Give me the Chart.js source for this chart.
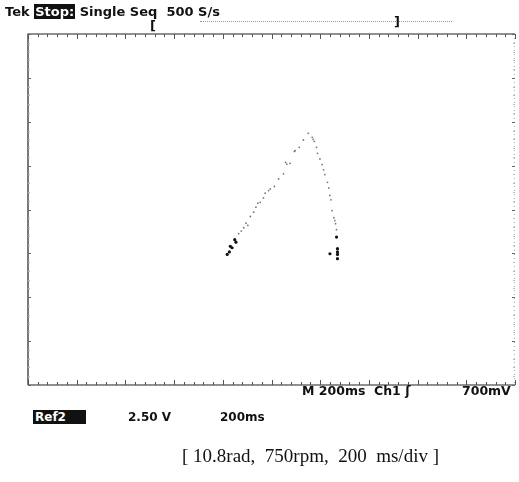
<!DOCTYPE html>
<html>
<head>
<meta charset="utf-8">
<script src="https://cdn.jsdelivr.net/npm/chart.js@4.4.1/dist/chart.umd.min.js"></script>
<style>
  html, body { margin: 0; padding: 0; background: #fff; }
  #wrap { position: relative; width: 519px; height: 482px; overflow: hidden; }
  #scope { position: absolute; left: 0; top: 0; }
  .t { position: absolute; white-space: nowrap; font-family: "DejaVu Sans", sans-serif; color: #111; }
  .hdr { font-size: 13px; font-weight: bold; top: 4px; }
  .inv { background: #111; color: #fff; padding: 0 1px; }
  .bot { font-size: 12.5px; font-weight: bold; top: 383px; }
  .ref { font-size: 12px; font-weight: bold; top: 410px; }
  .cap { font-family: "Liberation Serif", "Times New Roman", serif; font-size: 19px; top: 445px; left: 182px; }
  .brk { font-size: 13px; font-weight: bold; }
  #trig { position: absolute; left: 200px; top: 21px; width: 252px; border-top: 1px dotted #999; }
</style>
</head>
<body>
<div id="wrap">
  <canvas id="scope" width="519" height="482"></canvas>

  <div class="t hdr" style="left:5px;">Tek <span class="inv">Stop:</span> Single Seq&nbsp;&nbsp;500 S/s</div>
  <div class="t brk" style="left:150px; top:18px;">[</div>
  <div id="trig"></div>
  <div class="t brk" style="left:394px; top:14px;">]</div>

  <div class="t bot" style="left:302px;">M 200ms&nbsp;&nbsp;Ch1 ʃ</div>
  <div class="t bot" style="left:462px;">700mV</div>

  <div class="t ref" style="left:33px;"><span class="inv" style="padding:0 20px 0 2px;">Ref2</span></div>
  <div class="t ref" style="left:128px; font-weight:600;">2.50 V</div>
  <div class="t ref" style="left:220px; font-weight:600;">200ms</div>

  <div class="t cap">[ 10.8rad,&nbsp; 750rpm,&nbsp; 200&nbsp; ms/div ]</div>
</div>

<script>
// ── Oscilloscope settings (10 div x 200 ms, 8 div x 2.5 V) ──
const TIME_DIV_MS = 200;
const VOLT_DIV = 2.5;
const H_DIVS = 10;
const V_DIVS = 8;

// trace samples: time (ms) and voltage (V)
const traceTime = [
  818, 827, 831, 838, 849, 854, 865, 876, 886, 895, 903, 913, 927, 936, 944, 954,
  967, 974, 988, 995, 1012, 1029, 1049, 1058, 1063, 1076, 1094, 1097, 1114, 1131, 1151,
  1167, 1171, 1176, 1185, 1189, 1199, 1208, 1214, 1219, 1230, 1235, 1240, 1244, 1249,
  1256, 1260, 1263, 1267, 1267, 1271, 1271, 1240, 1271, 1271
];
const traceVolt = [
  -2.56, -2.42, -2.10, -2.18, -1.72, -1.86, -1.38, -1.23, -1.04, -0.78, -0.91, -0.40, -0.15, 0.13, 0.36, 0.41,
  0.66, 0.93, 1.08, 1.17, 1.31, 1.74, 2.03, 2.69, 2.59, 2.63, 3.31, 3.35, 3.54, 3.96, 4.34,
  4.11, 4.00, 3.88, 3.54, 3.20, 2.88, 2.56, 2.26, 1.99, 1.55, 1.23, 0.80, 0.55, -0.06,
  -0.47, -0.63, -0.81, -1.15, -1.57, -2.23, -2.42, -2.52, -2.56, -2.80
];

const points = traceTime.map((t, i) => ({ x: t, y: traceVolt[i] }));

// graticule: frame + edge ticks, placed through the chart's scales
const graticule = {
  id: 'graticule',
  beforeDatasetsDraw(chart) {
    const { ctx, chartArea: a, scales: { x, y } } = chart;
    ctx.save();
    ctx.strokeStyle = '#222';
    ctx.lineWidth = 1.2;
    ctx.beginPath();
    ctx.moveTo(a.left, a.bottom); ctx.lineTo(a.left, a.top); ctx.lineTo(a.right, a.top);
    ctx.moveTo(a.left, a.bottom); ctx.lineTo(a.right, a.bottom);
    ctx.stroke();

    // right edge: faint dotted
    ctx.strokeStyle = '#aaa';
    ctx.lineWidth = 1;
    ctx.setLineDash([1, 3]);
    ctx.beginPath();
    ctx.moveTo(a.right - 0.5, a.top); ctx.lineTo(a.right - 0.5, a.bottom);
    ctx.stroke();
    ctx.setLineDash([]);

    // horizontal ticks (5 per division) on top and bottom edges
    ctx.strokeStyle = '#555';
    const xStep = TIME_DIV_MS / 5;
    for (let t = 0; t <= TIME_DIV_MS * H_DIVS; t += xStep) {
      const px = Math.round(x.getPixelForValue(t)) + 0.5;
      const major = t % TIME_DIV_MS === 0;
      const len = major ? 5 : 3;
      ctx.beginPath();
      ctx.moveTo(px, a.top); ctx.lineTo(px, a.top + len);
      ctx.moveTo(px, a.bottom); ctx.lineTo(px, a.bottom - len);
      ctx.stroke();
    }
    // vertical ticks on left and right edges
    const yStep = VOLT_DIV / 5;
    const yMax = VOLT_DIV * V_DIVS / 2;
    for (let v = -yMax; v <= yMax + 1e-9; v += yStep) {
      const py = Math.round(y.getPixelForValue(v)) + 0.5;
      const major = Math.abs(v / VOLT_DIV - Math.round(v / VOLT_DIV)) < 1e-6;
      ctx.strokeStyle = major ? '#666' : '#bbb';
      const len = major ? 3 : 2;
      ctx.beginPath();
      ctx.moveTo(a.left, py); ctx.lineTo(a.left + len, py);
      ctx.moveTo(a.right, py); ctx.lineTo(a.right - len, py);
      ctx.stroke();
    }
    ctx.restore();
  }
};

new Chart(document.getElementById('scope'), {
  type: 'scatter',
  data: {
    datasets: [{
      data: points,
      showLine: false,
      pointRadius: ctx => (ctx.raw && ctx.raw.y < -1.5 ? 1.6 : 0.9),
      pointBackgroundColor: ctx => (ctx.raw && ctx.raw.y < -1.5 ? '#111' : '#777'),
      pointBorderWidth: 0
    }]
  },
  options: {
    responsive: false,
    animation: false,
    layout: { padding: { left: 28, top: 34, right: 1, bottom: 97 } },
    plugins: { legend: { display: false }, tooltip: { enabled: false } },
    scales: {
      x: { type: 'linear', min: 0, max: TIME_DIV_MS * H_DIVS, display: false },
      y: { type: 'linear', min: -VOLT_DIV * V_DIVS / 2, max: VOLT_DIV * V_DIVS / 2, display: false }
    }
  },
  plugins: [graticule]
});
</script>
</body>
</html>
